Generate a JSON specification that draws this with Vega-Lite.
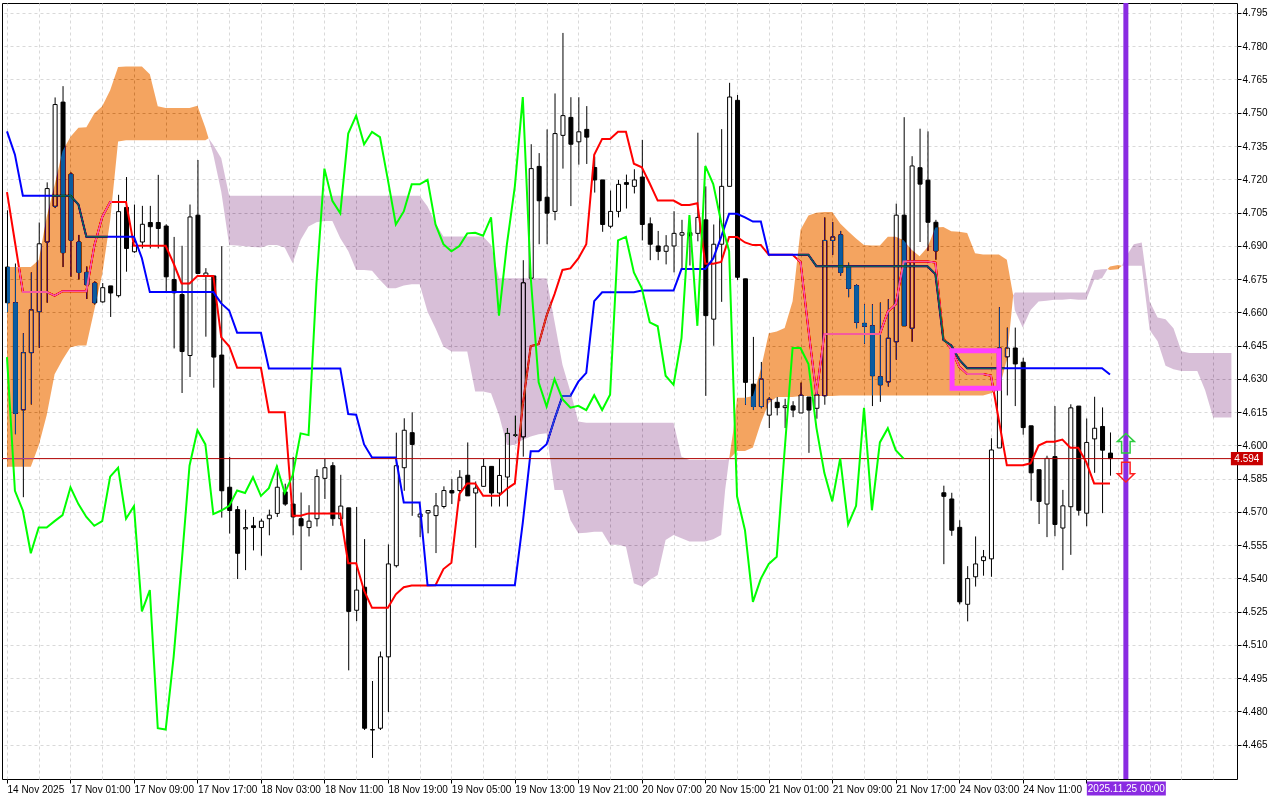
{
"$schema":"https://vega.github.io/schema/vega-lite/v6.json",
"width":1235,"height":776,
"autosize":{"type":"none"},
"padding":{"left":2,"top":3,"right":43,"bottom":21},
"background":"white",
"config":{"view":{"stroke":"black","strokeWidth":1},
"axis":{"labelFont":"Liberation Sans","labelFontSize":10,"labelColor":"black","tickColor":"black","domain":false,"gridColor":"#d9d9d9","gridDash":[3,3],"gridWidth":1,"title":null,"labelOverlap":false,"labelFlush":false}},
"datasets":{
"bars":[
{"i":0,"o":4.6804,"h":4.706,"l":4.66,"c":4.6643,"tk":4.7142,"kj":4.7416,"ck":4.6398},
{"i":1,"o":4.6643,"h":4.682,"l":4.605,"c":4.6144,"tk":4.6917,"kj":4.7311,"ck":4.5795},
{"i":2,"o":4.616,"h":4.6506,"l":4.5766,"c":4.6418,"tk":4.6692,"kj":4.7126,"ck":4.5706},
{"i":3,"o":4.6418,"h":4.678,"l":4.6184,"c":4.6611,"tk":4.6692,"kj":4.7126,"ck":4.5513},
{"i":4,"o":4.6603,"h":4.7005,"l":4.644,"c":4.6909,"tk":4.6692,"kj":4.7126,"ck":4.5629},
{"i":5,"o":4.6917,"h":4.7186,"l":4.6643,"c":4.7158,"tk":4.6692,"kj":4.7126,"ck":4.5629},
{"i":6,"o":4.7078,"h":4.7569,"l":4.707,"c":4.7537,"tk":4.6675,"kj":4.7126,"ck":4.5658},
{"i":7,"o":4.7548,"h":4.762,"l":4.6804,"c":4.6869,"tk":4.6695,"kj":4.7126,"ck":4.5685},
{"i":8,"o":4.7223,"h":4.7231,"l":4.676,"c":4.6925,"tk":4.6695,"kj":4.7126,"ck":4.5811},
{"i":9,"o":4.6917,"h":4.6949,"l":4.6748,"c":4.678,"tk":4.6695,"kj":4.7086,"ck":4.5735},
{"i":10,"o":4.678,"h":4.6807,"l":4.666,"c":4.6724,"tk":4.6695,"kj":4.6941,"ck":4.5677},
{"i":11,"o":4.6732,"h":4.674,"l":4.6635,"c":4.6643,"tk":4.69,"kj":4.6941,"ck":4.5637},
{"i":12,"o":4.6647,"h":4.6732,"l":4.6643,"c":4.6711,"tk":4.703,"kj":4.6941,"ck":4.5658},
{"i":13,"o":4.6719,"h":4.6719,"l":4.6579,"c":4.6687,"tk":4.7097,"kj":4.6941,"ck":4.5859},
{"i":14,"o":4.6675,"h":4.713,"l":4.6667,"c":4.7054,"tk":4.7097,"kj":4.6941,"ck":4.5899},
{"i":15,"o":4.7073,"h":4.721,"l":4.6783,"c":4.6888,"tk":4.7097,"kj":4.6941,"ck":4.5669},
{"i":16,"o":4.6873,"h":4.7086,"l":4.6868,"c":4.6917,"tk":4.69,"kj":4.6941,"ck":4.5726},
{"i":17,"o":4.6917,"h":4.708,"l":4.6888,"c":4.6997,"tk":4.69,"kj":4.6844,"ck":4.5251},
{"i":18,"o":4.7005,"h":4.708,"l":4.6888,"c":4.6986,"tk":4.69,"kj":4.6691,"ck":4.5347},
{"i":19,"o":4.7005,"h":4.722,"l":4.6888,"c":4.6978,"tk":4.69,"kj":4.6691,"ck":4.4724},
{"i":20,"o":4.6989,"h":4.6997,"l":4.6695,"c":4.676,"tk":4.69,"kj":4.6691,"ck":4.4718},
{"i":21,"o":4.6748,"h":4.694,"l":4.6437,"c":4.6688,"tk":4.682,"kj":4.6691,"ck":4.5046},
{"i":22,"o":4.668,"h":4.69,"l":4.6236,"c":4.6423,"tk":4.673,"kj":4.6691,"ck":4.5465},
{"i":23,"o":4.6405,"h":4.7086,"l":4.6308,"c":4.703,"tk":4.673,"kj":4.6691,"ck":4.5908},
{"i":24,"o":4.7038,"h":4.7287,"l":4.6772,"c":4.6775,"tk":4.6764,"kj":4.6691,"ck":4.6068},
{"i":25,"o":4.6766,"h":4.6799,"l":4.649,"c":4.6777,"tk":4.6764,"kj":4.6691,"ck":4.6004},
{"i":26,"o":4.6764,"h":4.6764,"l":4.626,"c":4.6398,"tk":4.6764,"kj":4.6691,"ck":4.569},
{"i":27,"o":4.6407,"h":4.6898,"l":4.5674,"c":4.5795,"tk":4.6487,"kj":4.664,"ck":4.5706},
{"i":28,"o":4.5811,"h":4.5948,"l":4.5602,"c":4.5706,"tk":4.6447,"kj":4.6608,"ck":4.5727},
{"i":29,"o":4.571,"h":4.5726,"l":4.5397,"c":4.5513,"tk":4.635,"kj":4.6508,"ck":4.5796},
{"i":30,"o":4.5623,"h":4.571,"l":4.5437,"c":4.5629,"tk":4.635,"kj":4.6508,"ck":4.5785},
{"i":31,"o":4.5637,"h":4.5677,"l":4.5526,"c":4.5629,"tk":4.635,"kj":4.6508,"ck":4.5856},
{"i":32,"o":4.5629,"h":4.5669,"l":4.5502,"c":4.5658,"tk":4.635,"kj":4.6508,"ck":4.5772},
{"i":33,"o":4.5669,"h":4.571,"l":4.5594,"c":4.5685,"tk":4.6149,"kj":4.6347,"ck":4.5807},
{"i":34,"o":4.5693,"h":4.5908,"l":4.5677,"c":4.5811,"tk":4.6149,"kj":4.6347,"ck":4.5905},
{"i":35,"o":4.579,"h":4.5827,"l":4.5727,"c":4.5735,"tk":4.6149,"kj":4.6347,"ck":4.5785},
{"i":36,"o":4.5735,"h":4.5948,"l":4.5594,"c":4.5677,"tk":4.5682,"kj":4.6347,"ck":4.5864},
{"i":37,"o":4.5669,"h":4.5787,"l":4.5437,"c":4.5637,"tk":4.5682,"kj":4.6347,"ck":4.6054},
{"i":38,"o":4.5629,"h":4.573,"l":4.5589,"c":4.5658,"tk":4.5693,"kj":4.6347,"ck":4.6046},
{"i":39,"o":4.5669,"h":4.5892,"l":4.5634,"c":4.5859,"tk":4.5693,"kj":4.6347,"ck":4.6733},
{"i":40,"o":4.5851,"h":4.594,"l":4.5758,"c":4.5899,"tk":4.5693,"kj":4.6347,"ck":4.7248},
{"i":41,"o":4.5908,"h":4.5924,"l":4.5637,"c":4.5669,"tk":4.5693,"kj":4.6347,"ck":4.7103},
{"i":42,"o":4.5669,"h":4.5867,"l":4.5637,"c":4.5726,"tk":4.5693,"kj":4.6347,"ck":4.7047},
{"i":43,"o":4.5718,"h":4.5718,"l":4.4985,"c":4.5251,"tk":4.5468,"kj":4.6141,"ck":4.7406},
{"i":44,"o":4.5256,"h":4.5722,"l":4.5207,"c":4.5347,"tk":4.5468,"kj":4.6138,"ck":4.7487},
{"i":45,"o":4.536,"h":4.5577,"l":4.4716,"c":4.4724,"tk":4.5344,"kj":4.6004,"ck":4.7358},
{"i":46,"o":4.4716,"h":4.4937,"l":4.459,"c":4.4718,"tk":4.5267,"kj":4.5945,"ck":4.7414},
{"i":47,"o":4.4724,"h":4.507,"l":4.4716,"c":4.5046,"tk":4.5267,"kj":4.5945,"ck":4.739},
{"i":48,"o":4.5046,"h":4.5553,"l":4.4797,"c":4.5465,"tk":4.5267,"kj":4.5945,"ck":4.7197},
{"i":49,"o":4.5457,"h":4.6057,"l":4.5449,"c":4.5908,"tk":4.5328,"kj":4.5945,"ck":4.6996},
{"i":50,"o":4.5899,"h":4.6122,"l":4.5795,"c":4.6068,"tk":4.536,"kj":4.5742,"ck":4.7055},
{"i":51,"o":4.6057,"h":4.6149,"l":4.5682,"c":4.6004,"tk":4.5368,"kj":4.5742,"ck":4.7177},
{"i":52,"o":4.5677,"h":4.5698,"l":4.5586,"c":4.569,"tk":4.5368,"kj":4.5742,"ck":4.7177},
{"i":53,"o":4.5695,"h":4.5706,"l":4.5603,"c":4.5706,"tk":4.5368,"kj":4.5369,"ck":4.7197},
{"i":54,"o":4.5683,"h":4.5785,"l":4.5514,"c":4.5727,"tk":4.5369,"kj":4.5369,"ck":4.6996},
{"i":55,"o":4.5724,"h":4.5815,"l":4.5715,"c":4.5796,"tk":4.5442,"kj":4.5369,"ck":4.6907},
{"i":56,"o":4.5796,"h":4.5848,"l":4.5735,"c":4.5785,"tk":4.547,"kj":4.5369,"ck":4.6875},
{"i":57,"o":4.5796,"h":4.5888,"l":4.5748,"c":4.5856,"tk":4.578,"kj":4.5369,"ck":4.6899},
{"i":58,"o":4.5865,"h":4.6013,"l":4.5772,"c":4.5772,"tk":4.5828,"kj":4.5369,"ck":4.6956},
{"i":59,"o":4.5785,"h":4.5837,"l":4.5538,"c":4.5807,"tk":4.5828,"kj":4.5369,"ck":4.6959},
{"i":60,"o":4.5815,"h":4.594,"l":4.5812,"c":4.5905,"tk":4.5772,"kj":4.5369,"ck":4.6945},
{"i":61,"o":4.5905,"h":4.5905,"l":4.5724,"c":4.5785,"tk":4.5772,"kj":4.5369,"ck":4.7028},
{"i":62,"o":4.5785,"h":4.594,"l":4.5724,"c":4.5864,"tk":4.5772,"kj":4.5369,"ck":4.6585},
{"i":63,"o":4.5857,"h":4.6078,"l":4.5724,"c":4.6054,"tk":4.5804,"kj":4.5369,"ck":4.6907},
{"i":64,"o":4.6046,"h":4.6134,"l":4.6038,"c":4.6046,"tk":4.5828,"kj":4.5369,"ck":4.7168},
{"i":65,"o":4.6038,"h":4.6835,"l":4.5949,"c":4.6733,"tk":4.6183,"kj":4.5651,"ck":4.7571},
{"i":66,"o":4.6754,"h":4.7358,"l":4.6754,"c":4.7248,"tk":4.6448,"kj":4.5973,"ck":4.6758},
{"i":67,"o":4.7258,"h":4.7318,"l":4.6907,"c":4.7103,"tk":4.6456,"kj":4.5973,"ck":4.6284},
{"i":68,"o":4.7119,"h":4.7425,"l":4.6907,"c":4.7047,"tk":4.6585,"kj":4.6005,"ck":4.6175},
{"i":69,"o":4.7055,"h":4.7587,"l":4.7015,"c":4.7406,"tk":4.6682,"kj":4.6118,"ck":4.6299},
{"i":70,"o":4.7398,"h":4.786,"l":4.7248,"c":4.7487,"tk":4.6791,"kj":4.6223,"ck":4.6208},
{"i":71,"o":4.7479,"h":4.757,"l":4.7079,"c":4.7358,"tk":4.6798,"kj":4.6223,"ck":4.617},
{"i":72,"o":4.7369,"h":4.757,"l":4.7266,"c":4.7414,"tk":4.6843,"kj":4.6287,"ck":4.6178},
{"i":73,"o":4.7425,"h":4.753,"l":4.7269,"c":4.739,"tk":4.6907,"kj":4.6327,"ck":4.6159},
{"i":74,"o":4.7253,"h":4.7302,"l":4.714,"c":4.7197,"tk":4.731,"kj":4.665,"ck":4.6226},
{"i":75,"o":4.7197,"h":4.7197,"l":4.6963,"c":4.6996,"tk":4.7382,"kj":4.669,"ck":4.6159},
{"i":76,"o":4.6988,"h":4.7149,"l":4.6979,"c":4.7055,"tk":4.7382,"kj":4.669,"ck":4.6228},
{"i":77,"o":4.7055,"h":4.7197,"l":4.7028,"c":4.7177,"tk":4.7414,"kj":4.669,"ck":4.6924},
{"i":78,"o":4.7185,"h":4.7221,"l":4.7068,"c":4.7177,"tk":4.7414,"kj":4.669,"ck":4.694},
{"i":79,"o":4.7168,"h":4.7245,"l":4.7136,"c":4.7197,"tk":4.727,"kj":4.669,"ck":4.678},
{"i":80,"o":4.721,"h":4.7378,"l":4.6924,"c":4.6996,"tk":4.7254,"kj":4.6698,"ck":4.6708},
{"i":81,"o":4.6999,"h":4.7028,"l":4.6835,"c":4.6907,"tk":4.7181,"kj":4.6698,"ck":4.6555},
{"i":82,"o":4.6899,"h":4.6967,"l":4.6835,"c":4.6875,"tk":4.7104,"kj":4.6698,"ck":4.6537},
{"i":83,"o":4.6875,"h":4.6948,"l":4.6816,"c":4.6899,"tk":4.7104,"kj":4.6698,"ck":4.6314},
{"i":84,"o":4.6899,"h":4.7056,"l":4.678,"c":4.6956,"tk":4.7104,"kj":4.6698,"ck":4.6273},
{"i":85,"o":4.6948,"h":4.7017,"l":4.6798,"c":4.6959,"tk":4.7084,"kj":4.6795,"ck":4.6483},
{"i":86,"o":4.6959,"h":4.6972,"l":4.6811,"c":4.6945,"tk":4.7084,"kj":4.6795,"ck":4.7038},
{"i":87,"o":4.6956,"h":4.741,"l":4.692,"c":4.7028,"tk":4.7092,"kj":4.6795,"ck":4.6539},
{"i":88,"o":4.7017,"h":4.7168,"l":4.6223,"c":4.6585,"tk":4.6819,"kj":4.6795,"ck":4.726},
{"i":89,"o":4.6569,"h":4.6996,"l":4.6449,"c":4.6907,"tk":4.6819,"kj":4.6843,"ck":4.7178},
{"i":90,"o":4.6907,"h":4.7426,"l":4.6647,"c":4.7168,"tk":4.6827,"kj":4.694,"ck":4.7006},
{"i":91,"o":4.7168,"h":4.7635,"l":4.7168,"c":4.7571,"tk":4.694,"kj":4.7044,"ck":4.6877},
{"i":92,"o":4.7556,"h":4.758,"l":4.6746,"c":4.6758,"tk":4.694,"kj":4.7044,"ck":4.577},
{"i":93,"o":4.6751,"h":4.6751,"l":4.6183,"c":4.6284,"tk":4.6915,"kj":4.7028,"ck":4.5617},
{"i":94,"o":4.6276,"h":4.6489,"l":4.6159,"c":4.6175,"tk":4.6903,"kj":4.7009,"ck":4.5294},
{"i":95,"o":4.6175,"h":4.6376,"l":4.6167,"c":4.6299,"tk":4.6903,"kj":4.7009,"ck":4.5399},
{"i":96,"o":4.6136,"h":4.6218,"l":4.6078,"c":4.6208,"tk":4.6859,"kj":4.6859,"ck":4.5465},
{"i":97,"o":4.6194,"h":4.6218,"l":4.6135,"c":4.617,"tk":4.6859,"kj":4.6859,"ck":4.5497},
{"i":98,"o":4.617,"h":4.621,"l":4.6078,"c":4.6178,"tk":4.6859,"kj":4.6859,"ck":4.5979},
{"i":99,"o":4.6178,"h":4.6199,"l":4.6127,"c":4.6159,"tk":4.6859,"kj":4.6859,"ck":4.6439},
{"i":100,"o":4.6146,"h":4.6283,"l":4.6146,"c":4.6226,"tk":4.6827,"kj":4.6859,"ck":4.6439},
{"i":101,"o":4.6218,"h":4.6218,"l":4.5966,"c":4.6159,"tk":4.6521,"kj":4.6859,"ck":4.6367},
{"i":102,"o":4.6167,"h":4.6263,"l":4.612,"c":4.6228,"tk":4.6231,"kj":4.6808,"ck":4.608},
{"i":103,"o":4.6223,"h":4.7028,"l":4.6183,"c":4.6924,"tk":4.6502,"kj":4.6808,"ck":4.5876},
{"i":104,"o":4.6924,"h":4.7007,"l":4.6859,"c":4.694,"tk":4.6502,"kj":4.6808,"ck":4.5747},
{"i":105,"o":4.6949,"h":4.6967,"l":4.6765,"c":4.678,"tk":4.6502,"kj":4.6808,"ck":4.5941},
{"i":106,"o":4.6805,"h":4.6824,"l":4.6668,"c":4.6708,"tk":4.6502,"kj":4.6808,"ck":4.5643},
{"i":107,"o":4.672,"h":4.6727,"l":4.6528,"c":4.6555,"tk":4.6502,"kj":4.6808,"ck":4.5727},
{"i":108,"o":4.655,"h":4.6636,"l":4.6458,"c":4.6537,"tk":4.6502,"kj":4.6808,"ck":4.6169},
{"i":109,"o":4.6539,"h":4.6636,"l":4.6177,"c":4.6314,"tk":4.6502,"kj":4.6808,"ck":4.5707},
{"i":110,"o":4.6309,"h":4.6644,"l":4.6196,"c":4.6273,"tk":4.6502,"kj":4.6808,"ck":4.6013},
{"i":111,"o":4.6286,"h":4.6659,"l":4.6265,"c":4.6483,"tk":4.6603,"kj":4.6808,"ck":4.6077},
{"i":112,"o":4.6467,"h":4.709,"l":4.6386,"c":4.7038,"tk":4.6636,"kj":4.6808,"ck":4.5978},
{"i":113,"o":4.7038,"h":4.748,"l":4.6539,"c":4.6539,"tk":4.6829,"kj":4.6808,"ck":4.594},
{"i":114,"o":4.6528,"h":4.7304,"l":4.6467,"c":4.726,"tk":4.6829,"kj":4.6808},
{"i":115,"o":4.7252,"h":4.7428,"l":4.6917,"c":4.7178,"tk":4.6829,"kj":4.6808},
{"i":116,"o":4.7196,"h":4.7416,"l":4.6877,"c":4.7006,"tk":4.6829,"kj":4.6808},
{"i":117,"o":4.7006,"h":4.7017,"l":4.6837,"c":4.6877,"tk":4.6824,"kj":4.6772},
{"i":118,"o":4.5786,"h":4.5818,"l":4.5464,"c":4.577,"tk":4.6483,"kj":4.6475},
{"i":119,"o":4.5758,"h":4.5786,"l":4.5592,"c":4.5617,"tk":4.6434,"kj":4.645},
{"i":120,"o":4.563,"h":4.5662,"l":4.5283,"c":4.5294,"tk":4.6354,"kj":4.6386},
{"i":121,"o":4.5283,"h":4.5455,"l":4.5206,"c":4.5399,"tk":4.6322,"kj":4.6348},
{"i":122,"o":4.5407,"h":4.5589,"l":4.5363,"c":4.5465,"tk":4.6322,"kj":4.6348},
{"i":123,"o":4.548,"h":4.5528,"l":4.5412,"c":4.5497,"tk":4.6322,"kj":4.6348},
{"i":124,"o":4.5488,"h":4.6032,"l":4.5407,"c":4.5979,"tk":4.6314,"kj":4.6348},
{"i":125,"o":4.5988,"h":4.6623,"l":4.5988,"c":4.6439,"tk":4.6112,"kj":4.6348},
{"i":126,"o":4.6399,"h":4.6531,"l":4.6225,"c":4.6439,"tk":4.591,"kj":4.6348},
{"i":127,"o":4.6439,"h":4.6531,"l":4.6177,"c":4.6367,"tk":4.591,"kj":4.6348},
{"i":128,"o":4.6375,"h":4.6395,"l":4.6048,"c":4.608,"tk":4.591,"kj":4.6348},
{"i":129,"o":4.6088,"h":4.6088,"l":4.575,"c":4.5876,"tk":4.5919,"kj":4.6348},
{"i":130,"o":4.589,"h":4.589,"l":4.5645,"c":4.5747,"tk":4.5999,"kj":4.6348},
{"i":131,"o":4.5735,"h":4.5953,"l":4.5586,"c":4.5941,"tk":4.6016,"kj":4.6348},
{"i":132,"o":4.5949,"h":4.6177,"l":4.559,"c":4.5643,"tk":4.6016,"kj":4.6348},
{"i":133,"o":4.5627,"h":4.5799,"l":4.5437,"c":4.5727,"tk":4.6026,"kj":4.6348},
{"i":134,"o":4.5723,"h":4.6185,"l":4.5506,"c":4.6169,"tk":4.5989,"kj":4.6348},
{"i":135,"o":4.6177,"h":4.6177,"l":4.5683,"c":4.5707,"tk":4.5989,"kj":4.6348},
{"i":136,"o":4.5694,"h":4.6121,"l":4.5635,"c":4.6013,"tk":4.5925,"kj":4.6348},
{"i":137,"o":4.6029,"h":4.6219,"l":4.5876,"c":4.6077,"tk":4.5828,"kj":4.6348},
{"i":138,"o":4.6085,"h":4.6171,"l":4.5694,"c":4.5978,"tk":4.5828,"kj":4.6348},
{"i":139,"o":4.5965,"h":4.6058,"l":4.5863,"c":4.594,"tk":4.5828,"kj":4.6319}
],
"cloud":[
{"i":0,"a":4.6804,"b":4.5903},{"i":1,"a":4.6804,"b":4.5903},{"i":2,"a":4.6804,"b":4.5903},{"i":3,"a":4.6804,"b":4.5903},
{"i":4,"a":4.6836,"b":4.5999},{"i":5,"a":4.703,"b":4.6136},{"i":6,"a":4.7174,"b":4.6321},{"i":7,"a":4.7327,"b":4.6386},
{"i":8,"a":4.7392,"b":4.6442},{"i":9,"a":4.7432,"b":4.645},{"i":10,"a":4.7435,"b":4.645},{"i":11,"a":4.7497,"b":4.661},
{"i":12,"a":4.7529,"b":4.6772},{"i":13,"a":4.7601,"b":4.7014},{"i":14,"a":4.7706,"b":4.737},{"i":15,"a":4.7709,"b":4.7376},
{"i":16,"a":4.7709,"b":4.7376},{"i":17,"a":4.7709,"b":4.7376},{"i":18,"a":4.7674,"b":4.7376},{"i":19,"a":4.7529,"b":4.7376},
{"i":20,"a":4.7521,"b":4.7376},{"i":21,"a":4.7521,"b":4.7376},{"i":22,"a":4.7521,"b":4.7376},{"i":23,"a":4.7521,"b":4.7376},
{"i":24,"a":4.7532,"b":4.7376},{"i":25,"a":4.7432,"b":4.7376},{"i":25.4,"a":4.7385,"b":4.7385},
{"i":26,"a":4.731,"b":4.7355},{"i":27,"a":4.7144,"b":4.7295},{"i":28,"a":4.6904,"b":4.7126},{"i":29,"a":4.6901,"b":4.7126},
{"i":30,"a":4.6898,"b":4.7126},{"i":31,"a":4.6895,"b":4.7126},{"i":32,"a":4.6892,"b":4.7126},{"i":33,"a":4.6904,"b":4.7126},
{"i":34,"a":4.6904,"b":4.7126},{"i":35,"a":4.6892,"b":4.7126},{"i":36,"a":4.6821,"b":4.7126},{"i":37,"a":4.6926,"b":4.7126},
{"i":38,"a":4.6987,"b":4.7126},{"i":39,"a":4.7006,"b":4.7126},{"i":40,"a":4.7012,"b":4.7126},{"i":41,"a":4.7012,"b":4.7126},
{"i":42,"a":4.6934,"b":4.7126},{"i":43,"a":4.6877,"b":4.7126},{"i":44,"a":4.6791,"b":4.7126},{"i":45,"a":4.6791,"b":4.7126},
{"i":46,"a":4.6787,"b":4.7126},{"i":47,"a":4.6746,"b":4.7126},{"i":48,"a":4.6709,"b":4.7126},{"i":49,"a":4.6709,"b":4.7126},
{"i":50,"a":4.6721,"b":4.7126},{"i":51,"a":4.6727,"b":4.7126},{"i":52,"a":4.6727,"b":4.7126},{"i":53,"a":4.6603,"b":4.7077},
{"i":54,"a":4.6528,"b":4.7002},{"i":55,"a":4.6446,"b":4.6942},{"i":56,"a":4.6423,"b":4.6942},{"i":57,"a":4.6423,"b":4.6942},
{"i":58,"a":4.6423,"b":4.6942},{"i":59,"a":4.6243,"b":4.6942},{"i":60,"a":4.6243,"b":4.6942},{"i":61,"a":4.6235,"b":4.6904},
{"i":62,"a":4.6137,"b":4.6754},{"i":63,"a":4.6002,"b":4.6754},{"i":64,"a":4.6002,"b":4.6754},{"i":65,"a":4.6025,"b":4.6754},
{"i":66,"a":4.604,"b":4.6754},{"i":67,"a":4.605,"b":4.6754},{"i":68,"a":4.6054,"b":4.6754},{"i":69,"a":4.5799,"b":4.6558},
{"i":70,"a":4.5799,"b":4.6363},{"i":71,"a":4.5663,"b":4.6243},{"i":72,"a":4.5603,"b":4.6107},{"i":73,"a":4.5606,"b":4.6102},
{"i":74,"a":4.561,"b":4.6102},{"i":75,"a":4.561,"b":4.6102},{"i":76,"a":4.5551,"b":4.6102},{"i":77,"a":4.5551,"b":4.6102},
{"i":78,"a":4.5543,"b":4.6102},{"i":79,"a":4.5378,"b":4.6102},{"i":80,"a":4.5363,"b":4.6102},{"i":81,"a":4.5393,"b":4.6102},
{"i":82,"a":4.5415,"b":4.6102},{"i":83,"a":4.5573,"b":4.6102},{"i":84,"a":4.5596,"b":4.6102},{"i":85,"a":4.5581,"b":4.5949},
{"i":86,"a":4.5566,"b":4.5934},{"i":87,"a":4.5566,"b":4.5934},{"i":88,"a":4.5566,"b":4.5934},{"i":89,"a":4.5576,"b":4.5934},
{"i":90,"a":4.5596,"b":4.5934},{"i":90.5,"a":4.5799,"b":4.5934},{"i":91,"a":4.5937,"b":4.5937},{"i":91.5,"a":4.606,"b":4.5955},
{"i":92,"a":4.6215,"b":4.5974},{"i":93,"a":4.6215,"b":4.5974},{"i":94,"a":4.6223,"b":4.599},{"i":95,"a":4.6344,"b":4.6102},
{"i":96,"a":4.6505,"b":4.6191},{"i":97,"a":4.6513,"b":4.6218},{"i":98,"a":4.6529,"b":4.6218},{"i":99,"a":4.665,"b":4.6218},
{"i":100,"a":4.6972,"b":4.6222},{"i":101,"a":4.7036,"b":4.6222},{"i":102,"a":4.7049,"b":4.6222},{"i":103,"a":4.7052,"b":4.6222},
{"i":104,"a":4.7052,"b":4.6222},{"i":105,"a":4.7,"b":4.6225},{"i":106,"a":4.6966,"b":4.6225},{"i":107,"a":4.6933,"b":4.6225},
{"i":108,"a":4.6904,"b":4.6225},{"i":109,"a":4.6901,"b":4.6225},{"i":110,"a":4.6901,"b":4.6225},{"i":111,"a":4.6941,"b":4.6225},
{"i":112,"a":4.6941,"b":4.6225},{"i":113,"a":4.6925,"b":4.6225},{"i":114,"a":4.6882,"b":4.6225},{"i":115,"a":4.6853,"b":4.6225},
{"i":116,"a":4.6893,"b":4.6225},{"i":117,"a":4.6982,"b":4.6225},{"i":118,"a":4.6985,"b":4.6225},{"i":119,"a":4.6966,"b":4.6225},
{"i":120,"a":4.6963,"b":4.6225},{"i":121,"a":4.6958,"b":4.6225},{"i":122,"a":4.6866,"b":4.6225},{"i":123,"a":4.6861,"b":4.6225},
{"i":124,"a":4.6861,"b":4.6235},{"i":125,"a":4.6861,"b":4.6249},{"i":126,"a":4.6837,"b":4.6386},{"i":126.8,"a":4.6676,"b":4.6676},
{"i":127,"a":4.661,"b":4.6689},{"i":128,"a":4.6531,"b":4.6689},{"i":129,"a":4.661,"b":4.6689},{"i":130,"a":4.6649,"b":4.6689},
{"i":131,"a":4.6652,"b":4.6689},{"i":132,"a":4.6657,"b":4.6689},{"i":133,"a":4.6657,"b":4.6689},{"i":134,"a":4.666,"b":4.6689},
{"i":135,"a":4.6657,"b":4.6689},{"i":136,"a":4.6657,"b":4.6689},{"i":137,"a":4.6746,"b":4.679},{"i":138,"a":4.6754,"b":4.6794},
{"i":138.7,"a":4.6795,"b":4.6795},{"i":139,"a":4.6807,"b":4.6791},{"i":140,"a":4.6813,"b":4.6794},{"i":140.5,"a":4.681,"b":4.681},
{"i":141,"a":4.681,"b":4.685},{"i":142,"a":4.681,"b":4.6907},{"i":143,"a":4.681,"b":4.6915},{"i":144,"a":4.652,"b":4.6649},
{"i":145,"a":4.6469,"b":4.6577},{"i":146,"a":4.6359,"b":4.6569},{"i":147,"a":4.6343,"b":4.6528},{"i":148,"a":4.6335,"b":4.6424},
{"i":149,"a":4.6335,"b":4.6416},{"i":150,"a":4.6335,"b":4.6416},{"i":151,"a":4.6247,"b":4.6416},{"i":152,"a":4.6126,"b":4.6416},
{"i":153,"a":4.6126,"b":4.6416},{"i":154,"a":4.6126,"b":4.6416},{"i":154.3,"a":4.6126,"b":4.6416}
],
"bid":[{"p":4.594}],
"vline":[{"t":141}],
"box":[{"t0":119.1,"t1":125,"p0":4.6426,"p1":4.6257}],
"arrows":[{"t":141,"p":4.6009,"dir":"up"},{"t":141,"p":4.5879,"dir":"down"}],
"pricelabel":[{"t":156.25,"p":4.594,"label":"4.594"}],
"timelabel":[{"t":141.06,"p":4.4452,"label":"2025.11.25 00:00"}]
},
"resolve":{"axis":{"x":"independent","y":"independent"}},
"layer":[
{"data":{"name":"bars"},
 "mark":{"type":"rule","color":"black","strokeWidth":1,"xOffset":0.5},
 "encoding":{
  "x":{"field":"i","type":"quantitative","scale":{"domain":[0,154.375],"nice":false,"zero":false},
   "axis":{"orient":"bottom","values":[0,8,16,24,32,40,48,56,64,72,80,88,96,104,112,120,128,136],"grid":false,"tickSize":4,"labelPadding":1,"labelAlign":"left","labelBaseline":"top","labelFlush":false,"labelOverlap":false,"labelBound":false,"labelFontSize":10,
   "labelExpr":"['14 Nov 2025','17 Nov 01:00','17 Nov 09:00','17 Nov 17:00','18 Nov 03:00','18 Nov 11:00','18 Nov 19:00','19 Nov 05:00','19 Nov 13:00','19 Nov 21:00','20 Nov 07:00','20 Nov 15:00','21 Nov 01:00','21 Nov 09:00','21 Nov 17:00','24 Nov 03:00','24 Nov 11:00',''][round(datum.value/8)]"}},
  "y":{"field":"h","type":"quantitative","scale":{"domain":[4.4495,4.7995],"nice":false,"zero":false},
   "axis":{"orient":"right","values":[4.465,4.48,4.495,4.51,4.525,4.54,4.555,4.57,4.585,4.6,4.615,4.63,4.645,4.66,4.675,4.69,4.705,4.72,4.735,4.75,4.765,4.78,4.795],"labelExpr":"format(datum.value, '.3f')","grid":true,"tickSize":4,"labelPadding":1,"labelFlush":false,"labelOverlap":false}},
  "y2":{"field":"l"}}},
{"data":{"name":"bars"},
 "mark":{"type":"bar","size":4,"stroke":"black","strokeWidth":1,"xOffset":0.5},
 "encoding":{
  "x":{"field":"i","type":"quantitative","scale":{"domain":[0,154.375],"nice":false,"zero":false},"axis":null},
  "y":{"field":"o","type":"quantitative","scale":{"domain":[4.4495,4.7995],"nice":false,"zero":false},"axis":null},
  "y2":{"field":"c"},
  "fill":{"condition":{"test":"datum.c >= datum.o","value":"white"},"value":"black"}}},
{"data":{"name":"bars"},
 "mark":{"type":"line","color":"#ff0000","strokeWidth":2},
 "encoding":{
  "x":{"field":"i","type":"quantitative","scale":{"domain":[0,154.375],"nice":false,"zero":false},
   "axis":{"orient":"top","values":[0,4,8,12,16,20,24,28,32,36,40,44,48,52,56,60,64,68,72,76,80,84,88,92,96,100,104,108,112,116,120,124,128,132,136,140,144,148,152],"grid":true,"labels":false,"ticks":false,"domain":false}},
  "y":{"field":"tk","type":"quantitative","scale":{"domain":[4.4495,4.7995],"nice":false,"zero":false},"axis":null}}},
{"data":{"name":"bars"},
 "mark":{"type":"line","color":"#0000ff","strokeWidth":2},
 "encoding":{
  "x":{"field":"i","type":"quantitative","scale":{"domain":[0,154.375],"nice":false,"zero":false},"axis":null},
  "y":{"field":"kj","type":"quantitative","scale":{"domain":[4.4495,4.7995],"nice":false,"zero":false},"axis":null}}},
{"data":{"name":"bid"},
 "mark":{"type":"rule","color":"#b00000","strokeWidth":1},
 "encoding":{
  "y":{"field":"p","type":"quantitative","scale":{"domain":[4.4495,4.7995],"nice":false,"zero":false},"axis":null}}},
{"data":{"name":"cloud"},
 "transform":[{"calculate":"min(datum.a, datum.b)","as":"lo"}],
 "mark":{"type":"area","color":"#0b5b9f","blend":"difference"},
 "encoding":{
  "x":{"field":"i","type":"quantitative","scale":{"domain":[0,154.375],"nice":false,"zero":false},"axis":null},
  "y":{"field":"a","type":"quantitative","scale":{"domain":[4.4495,4.7995],"nice":false,"zero":false},"axis":null},
  "y2":{"field":"lo"}}},
{"data":{"name":"cloud"},
 "transform":[{"calculate":"min(datum.a, datum.b)","as":"lo"}],
 "mark":{"type":"area","color":"#274027","blend":"difference"},
 "encoding":{
  "x":{"field":"i","type":"quantitative","scale":{"domain":[0,154.375],"nice":false,"zero":false},"axis":null},
  "y":{"field":"b","type":"quantitative","scale":{"domain":[4.4495,4.7995],"nice":false,"zero":false},"axis":null},
  "y2":{"field":"lo"}}},
{"data":{"name":"bars"},
 "mark":{"type":"line","color":"#00ff00","strokeWidth":2},
 "encoding":{
  "x":{"field":"i","type":"quantitative","scale":{"domain":[0,154.375],"nice":false,"zero":false},"axis":null},
  "y":{"field":"ck","type":"quantitative","scale":{"domain":[4.4495,4.7995],"nice":false,"zero":false},"axis":null}}},
{"data":{"name":"vline"},
 "mark":{"type":"rule","color":"#8a2be2","strokeWidth":5},
 "encoding":{
  "x":{"field":"t","type":"quantitative","scale":{"domain":[0,154.375],"nice":false,"zero":false},"axis":null}}},
{"data":{"name":"box"},
 "mark":{"type":"rect","fillOpacity":0,"stroke":"#ff40ff","strokeWidth":5},
 "encoding":{
  "x":{"field":"t0","type":"quantitative","scale":{"domain":[0,154.375],"nice":false,"zero":false},"axis":null},
  "x2":{"field":"t1"},
  "y":{"field":"p0","type":"quantitative","scale":{"domain":[4.4495,4.7995],"nice":false,"zero":false},"axis":null},
  "y2":{"field":"p1"}}},
{"data":{"name":"arrows"},
 "mark":{"type":"point","filled":false,"strokeWidth":1.5,"size":289,"opacity":1},
 "encoding":{
  "x":{"field":"t","type":"quantitative","scale":{"domain":[0,154.375],"nice":false,"zero":false},"axis":null},
  "y":{"field":"p","type":"quantitative","scale":{"domain":[4.4495,4.7995],"nice":false,"zero":false},"axis":null},
  "shape":{"condition":{"test":"datum.dir == 'up'","value":"M0,-1.15L1,-0.2L0.5,-0.2L0.5,1.15L-0.5,1.15L-0.5,-0.2L-1,-0.2Z"},"value":"M0,1.15L1,0.2L0.5,0.2L0.5,-1.15L-0.5,-1.15L-0.5,0.2L-1,0.2Z"},
  "stroke":{"condition":{"test":"datum.dir == 'up'","value":"#2ecc40"},"value":"#ff2020"}}},
{"data":{"name":"pricelabel"},
 "mark":{"type":"point","filled":true,"color":"#c80000","opacity":1,"size":1024,"shape":"M-1,-0.41L1,-0.41L1,0.41L-1,0.41Z","clip":false},
 "encoding":{
  "x":{"field":"t","type":"quantitative","scale":{"domain":[0,154.375],"nice":false,"zero":false},"axis":null},
  "y":{"field":"p","type":"quantitative","scale":{"domain":[4.4495,4.7995],"nice":false,"zero":false},"axis":null}}},
{"data":{"name":"pricelabel"},
 "mark":{"type":"text","color":"white","font":"Liberation Sans","fontSize":10,"align":"center","baseline":"middle","clip":false},
 "encoding":{
  "x":{"field":"t","type":"quantitative","scale":{"domain":[0,154.375],"nice":false,"zero":false},"axis":null},
  "y":{"field":"p","type":"quantitative","scale":{"domain":[4.4495,4.7995],"nice":false,"zero":false},"axis":null},
  "text":{"field":"label"}}},
{"data":{"name":"timelabel"},
 "mark":{"type":"point","filled":true,"color":"#8a2be2","opacity":1,"size":6241,"shape":"M-1,-0.177L1,-0.177L1,0.177L-1,0.177Z","clip":false},
 "encoding":{
  "x":{"field":"t","type":"quantitative","scale":{"domain":[0,154.375],"nice":false,"zero":false},"axis":null},
  "y":{"field":"p","type":"quantitative","scale":{"domain":[4.4495,4.7995],"nice":false,"zero":false},"axis":null}}},
{"data":{"name":"timelabel"},
 "mark":{"type":"text","color":"white","font":"Liberation Sans","fontSize":10,"align":"center","baseline":"middle","clip":false},
 "encoding":{
  "x":{"field":"t","type":"quantitative","scale":{"domain":[0,154.375],"nice":false,"zero":false},"axis":null},
  "y":{"field":"p","type":"quantitative","scale":{"domain":[4.4495,4.7995],"nice":false,"zero":false},"axis":null},
  "text":{"field":"label"}}}
]
}
